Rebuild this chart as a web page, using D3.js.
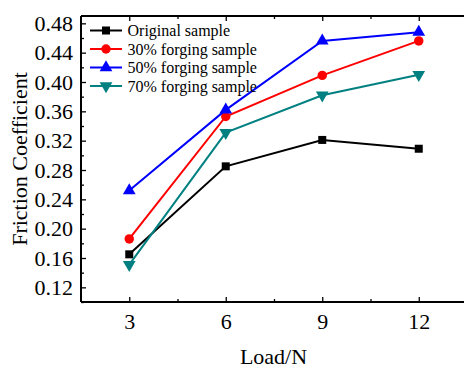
<!DOCTYPE html>
<html><head><meta charset="utf-8">
<script src="https://cdn.jsdelivr.net/npm/d3@7"></script>
<style>body{margin:0;background:#fff}svg{display:block}svg text{font-family:"Liberation Serif","Times New Roman",serif !important;}</style>
</head><body>
<svg id="c" width="464" height="368"></svg>
<script>
const loads = [3, 6, 9, 12];
const original = [0.165, 0.285, 0.321, 0.309];
const forge30 = [0.186, 0.353, 0.409, 0.456];
const forge50 = [0.252, 0.362, 0.456, 0.468];
const forge70 = [0.151, 0.331, 0.382, 0.410];
const seriesNames = ["Original sample", "30% forging sample", "50% forging sample", "70% forging sample"];
const seriesColors = ["#000000", "#ff0000", "#0000ff", "#008080"];
const seriesSymbols = ["square", "circle", "triangle", "triangleDown"];
const xTicks = [3, 6, 9, 12];
const yTicks = [0.12, 0.16, 0.20, 0.24, 0.28, 0.32, 0.36, 0.40, 0.44, 0.48];

const series = [original, forge30, forge50, forge70].map((v, i) => ({
  name: seriesNames[i], color: seriesColors[i], sym: seriesSymbols[i],
  pts: loads.map((x, j) => ({x, y: v[j]}))
}));

const svg = d3.select("#c");
const L = 81, R = 467, T = 16, B = 302;
const x = d3.scaleLinear().domain([1.5, 13.5]).range([L, R]);
const y = d3.scaleLinear().domain([0.10, 0.49]).range([B, T]);

const axB = svg.append("g").attr("transform", `translate(0,${B})`)
  .call(d3.axisBottom(x).tickValues(xTicks).tickSize(-5).tickPadding(11).tickFormat(d3.format("d")));
const axBm = svg.append("g").attr("transform", `translate(0,${B})`)
  .call(d3.axisBottom(x).tickValues([4.5, 7.5, 10.5]).tickSize(-3).tickFormat(""));
const axT = svg.append("g").attr("transform", `translate(0,${T})`)
  .call(d3.axisTop(x).tickValues(xTicks).tickSize(-5).tickFormat(""));
const axTm = svg.append("g").attr("transform", `translate(0,${T})`)
  .call(d3.axisTop(x).tickValues([4.5, 7.5, 10.5]).tickSize(-3).tickFormat(""));
const axL = svg.append("g").attr("transform", `translate(${L},0)`)
  .call(d3.axisLeft(y).tickValues(yTicks).tickSize(-5).tickPadding(8).tickFormat(d3.format(".2f")));
const axLm = svg.append("g").attr("transform", `translate(${L},0)`)
  .call(d3.axisLeft(y).tickValues([0.10,0.14,0.18,0.22,0.26,0.30,0.34,0.38,0.42,0.46]).tickSize(-3).tickFormat(""));
[axB, axBm, axT, axTm, axL, axLm].forEach(g => {
  g.attr("font-family", null);
  g.selectAll(".domain").attr("stroke", "#000").attr("stroke-width", 2);
  g.selectAll(".tick line").attr("stroke", "#000").attr("stroke-width", 1.3);
  g.selectAll("text").style("font-size", "22px").attr("fill", "#000");
});
axB.select(".domain").attr("d", `M${L},0H${R}`);
axT.select(".domain").attr("d", `M${L},0H${R}`);
axBm.select(".domain").remove(); axTm.select(".domain").remove(); axLm.select(".domain").remove();
axL.select(".domain").attr("d", `M0,${B}V${T}`);

function symPath(sym) {
  const m = {square: d3.symbolSquare, circle: d3.symbolCircle, triangle: d3.symbolTriangle, triangleDown: d3.symbolTriangle};
  const size = {square: 64, circle: 70, triangle: 70, triangleDown: 70}[sym];
  return d3.symbol().type(m[sym]).size(size)();
}

const line = d3.line().x(d => x(d.x)).y(d => y(d.y));
series.forEach(s => {
  svg.append("path").datum(s.pts).attr("d", line).attr("fill", "none")
    .attr("stroke", s.color).attr("stroke-width", 2);
  svg.selectAll(null).data(s.pts).enter().append("path")
    .attr("d", symPath(s.sym))
    .attr("transform", d => `translate(${x(d.x)},${y(d.y)})` + (s.sym === "triangleDown" ? " rotate(180)" : ""))
    .attr("fill", s.color);
});

series.forEach((s, i) => {
  const ly = 30.5 + i * 18.5;
  const g = svg.append("g");
  g.append("line").attr("x1", 90).attr("x2", 122).attr("y1", ly).attr("y2", ly)
    .attr("stroke", s.color).attr("stroke-width", 2);
  g.append("path").attr("d", symPath(s.sym))
    .attr("transform", `translate(106,${ly})` + (s.sym === "triangleDown" ? " rotate(180)" : ""))
    .attr("fill", s.color);
  g.append("text").attr("x", 127.5).attr("y", ly + 5.5).text(s.name)
    .style("font-size", "16px").attr("fill", "#000");
});

svg.append("text").attr("x", 273.5).attr("y", 364).attr("text-anchor", "middle")
  .style("font-size", "22px").text("Load/N");
svg.append("text").attr("transform", `translate(27,${(T + B) / 2}) rotate(-90)`).attr("text-anchor", "middle")
  .style("font-size", "22px").text("Friction Coefficient");
</script>
</body></html>
